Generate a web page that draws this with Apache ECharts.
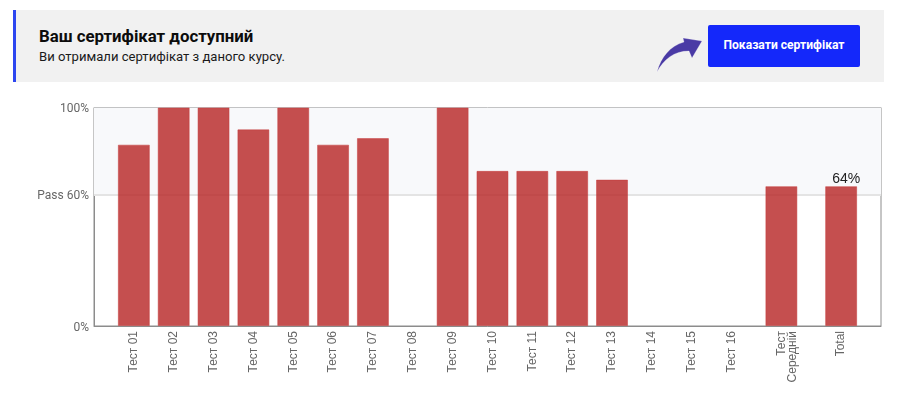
<!DOCTYPE html>
<html>
<head>
    <meta charset="utf-8">
    <title>Сертифікат</title>
    <script src="https://cdn.jsdelivr.net/npm/echarts@6/dist/echarts.min.js" charset="utf-8"></script>
    <style>
        html, body { margin: 0; padding: 0; background: #fff; }
        body { width: 900px; height: 417px; position: relative; overflow: hidden; font-family: Roboto, sans-serif; }
        #main { position: absolute; left: 0; top: 0; width: 900px; height: 417px; }
        .banner { position: absolute; left: 13px; top: 10px; width: 868px; height: 72px; background: #f1f1f1; border-left: 3px solid #2d46f0; }
        .banner h3 { position: absolute; left: 23px; top: 16px; margin: 0; font-size: 16.8px; line-height: 20px; font-weight: 700; color: #0c0c0c; white-space: nowrap; }
        .banner p { position: absolute; left: 23px; top: 38px; margin: 0; font-size: 13.1px; line-height: 18px; color: #1a1a1a; white-space: nowrap; }
        .btn { position: absolute; left: 692px; top: 15px; width: 152px; height: 42px; line-height: 41px; text-align: center; background: #1428fa; border-radius: 2px; color: #fff; font-size: 12.1px; font-weight: 700; white-space: nowrap; }
        .arrow { position: absolute; left: 640px; top: 27px; }
    </style>
</head>
<body>
<div id="main"></div>
<div class="banner">
    <h3>Ваш сертифікат доступний</h3>
    <p>Ви отримали сертифікат з даного курсу.</p>
    <svg class="arrow" width="52" height="40" viewBox="0 0 52 40">
        <path d="M1 35 C5 20 14 9 28 5 L27 1 L46 4 L36 21 L33 14 C18 14 8 22 1 35 Z" fill="#4a3aa5" stroke="#fff" stroke-opacity="0.5" stroke-width="0.5"/>
    </svg>
    <div class="btn">Показати сертифікат</div>
</div>
<script type="text/javascript">
    var categories = ['Тест 01', 'Тест 02', 'Тест 03', 'Тест 04', 'Тест 05', 'Тест 06', 'Тест 07', 'Тест 08',
        'Тест 09', 'Тест 10', 'Тест 11', 'Тест 12', 'Тест 13', 'Тест 14', 'Тест 15', 'Тест 16',
        ' \nТест\nСередній', 'Total'];
    var scores = [83, 100, 100, 90, 100, 83, 86, 0, 100, 71, 71, 71, 67, 0, 0, 0, 64, 64];
    var passMark = 60;
    var yTicks = [0, 60, 100];

    // the axis is cut in 79 equal steps, the last two columns sit further apart
    var slotCount = 80;
    var slotNames = [];
    var slotValues = [];
    for (var s = 0; s < slotCount; s++) {
        slotNames.push('');
        slotValues.push(null);
    }
    categories.forEach(function (name, i) {
        var slot = 4 * (i + 1);
        if (i == 16) slot = 69;
        if (i == 17) slot = 75;
        slotNames[slot] = name;
        // no border on empty results, it would draw a line on the axis
        slotValues[slot] = scores[i] > 0 ? scores[i] : { value: scores[i], itemStyle: { borderWidth: 0 } };
    });

    var myChart = echarts.init(document.getElementById('main'));
    var option = {
        animation: false,
        grid: {
            left: 94,
            right: 19,
            top: 107.5,
            bottom: 91,
            show: true,
            backgroundColor: '#fff',
            borderColor: '#8c8c8c',
            borderWidth: 1
        },
        xAxis: {
            type: 'category',
            boundaryGap: false,
            data: slotNames,
            axisTick: { show: false },
            axisLine: { lineStyle: { color: '#8c8c8c' } },
            axisLabel: {
                interval: 0,
                rotate: 90,
                margin: 5,
                color: '#666',
                fontSize: 12,
                lineHeight: 11.5,
                fontFamily: 'Liberation Sans'
            }
        },
        yAxis: {
            type: 'value',
            min: 0,
            max: 100,
            splitLine: { show: false },
            axisLine: { show: true, lineStyle: { color: '#8c8c8c' } },
            axisTick: { show: false },
            axisLabel: {
                customValues: yTicks,
                margin: 5,
                formatter: function (v) {
                    return '{t|' + (v == passMark ? 'Pass ' + v + '%' : v + '%') + '}';
                },
                rich: {
                    t: { color: '#666', fontSize: 12, fontFamily: 'Roboto', padding: [3, 0, 0, 0] }
                }
            }
        },
        series: [{
            type: 'bar',
            data: slotValues,
            barWidth: 32,
            z: 2,
            itemStyle: {
                color: 'rgba(182,35,35,0.8)',
                borderColor: 'rgba(200,60,60,0.5)',
                borderWidth: 1
            },
            label: {
                show: true,
                position: 'top',
                distance: 1,
                offset: [5, 1],
                color: '#222',
                fontSize: 14,
                fontFamily: 'Liberation Sans',
                formatter: function (p) {
                    return p.name == 'Total' ? p.value + '%' : '';
                }
            },
            markArea: {
                silent: true,
                z: 1,
                itemStyle: { color: '#f8f9fb' },
                data: [[{ yAxis: passMark }, { yAxis: 100 }]]
            },
            markLine: {
                silent: true,
                z: 1,
                symbol: 'none',
                label: { show: false },
                lineStyle: { color: '#e4e4e4', width: 2, type: 'solid' },
                data: [{ yAxis: passMark }]
            }
        }]
    };
    myChart.setOption(option);
</script>
</body>
</html>
